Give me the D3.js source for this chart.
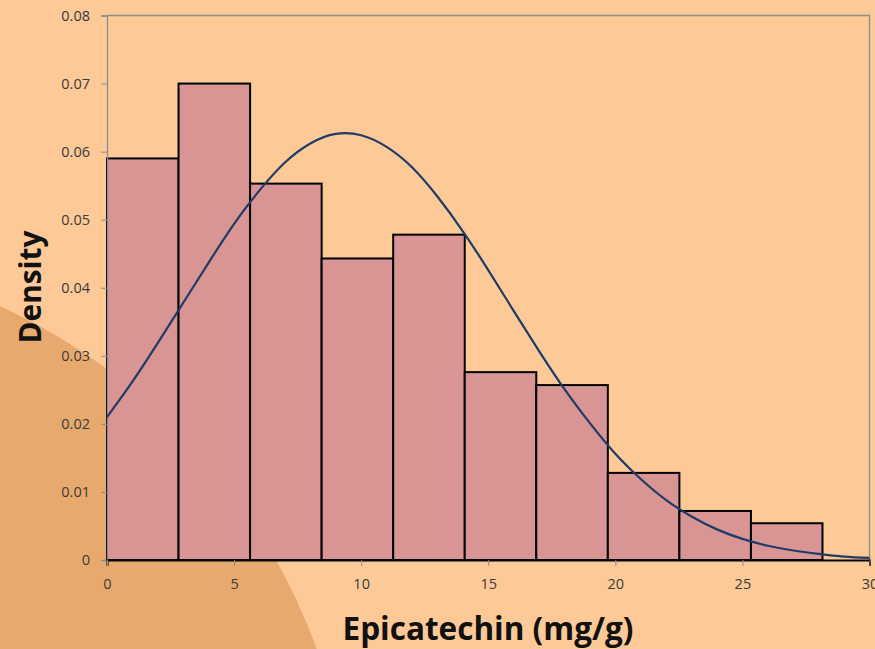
<!DOCTYPE html>
<html>
<head>
<meta charset="utf-8">
<script src="https://cdn.jsdelivr.net/npm/d3@7"></script>
<style>
  html, body { margin: 0; padding: 0; background: #FDC996; }
  svg { display: block; }
</style>
</head>
<body>
<svg id="chart" width="875" height="649"></svg>
<script>
// Histogram bins (lower edge, upper edge) in mg/g and their densities
const binStarts = [0, 2.815, 5.63, 8.445, 11.26, 14.075, 16.89, 19.705, 22.52, 25.335];
const binEnds   = [2.815, 5.63, 8.445, 11.26, 14.075, 16.89, 19.705, 22.52, 25.335, 28.15];
const densities = [0.0590, 0.0700, 0.0553, 0.0443, 0.0478, 0.0276, 0.0257, 0.0128, 0.0072, 0.0054];

// Fitted normal density curve, sampled at whole mg/g values
const curveX = [0,1,2,3,4,5,6,7,8,9,10,11,12,13,14,15,16,17,18,19,20,21,22,23,24,25,26,27,28,29,30];
const curveY = [0.0210,0.0262,0.0319,0.0378,0.0437,0.0494,0.0543,0.0584,0.0612,0.0626,0.0624,0.0607,0.0577,0.0534,0.0483,0.0426,0.0366,0.0307,0.0251,0.0201,0.0156,0.0119,0.0088,0.0064,0.0045,0.0031,0.0021,0.0014,0.0009,0.0005,0.0003];

// Axis ticks
const xTicks = [0, 5, 10, 15, 20, 25, 30];
const yTicks = [0, 0.01, 0.02, 0.03, 0.04, 0.05, 0.06, 0.07, 0.08];

const svg = d3.select("#chart");
const W = 875, H = 649;
const plotL = 107, plotR = 869.5, plotT = 15.5, plotB = 560;

const x = d3.scaleLinear().domain([0, 30]).range([plotL, plotR]);
const y = d3.scaleLinear().domain([0, 0.08]).range([plotB, plotT]);

// Slide backdrop: peach field with a darker arc in the lower-left corner
svg.append("rect").attr("width", W).attr("height", H).attr("fill", "#FDC996");
svg.append("circle").attr("cx", -250).attr("cy", 855).attr("r", 603).attr("fill", "#E8A96E");

// Plot frame (top and right edges)
svg.append("path")
  .attr("d", `M${plotL},${plotT}H${plotR}V${plotB}`)
  .attr("fill", "none").attr("stroke", "#8E8E8E").attr("stroke-width", 1.3);

// Bars
const bins = densities.map((d, i) => ({ x0: binStarts[i], x1: binEnds[i], d }));
svg.append("g").selectAll("rect").data(bins).join("rect")
  .attr("x", b => x(b.x0))
  .attr("y", b => y(b.d))
  .attr("width", b => x(b.x1) - x(b.x0))
  .attr("height", b => y(0) - y(b.d))
  .attr("fill", "#D99594")
  .attr("stroke", "#000").attr("stroke-width", 2);

// Y axis
const yAxis = svg.append("g").attr("transform", `translate(${plotL},0)`)
  .call(d3.axisLeft(y).tickValues(yTicks).tickFormat(d => d === 0 ? "0" : d3.format(".2f")(d)).tickSize(6).tickPadding(11));
yAxis.select(".domain").attr("stroke", "#8E8E8E").attr("stroke-width", 1.3);
yAxis.selectAll(".tick line").attr("stroke", "#8E8E8E");
yAxis.selectAll("text").attr("fill", "#3A3A3A").attr("font-family", "'Open Sans', sans-serif").attr("font-size", 14.5);

// X axis
const xAxis = svg.append("g").attr("transform", `translate(0,${plotB})`)
  .call(d3.axisBottom(x).tickValues(xTicks).tickSize(6).tickPadding(13));
xAxis.select(".domain").attr("stroke", "#000").attr("stroke-width", 2);
xAxis.selectAll(".tick line").attr("stroke", "#8E8E8E");
xAxis.selectAll("text").attr("fill", "#3A3A3A").attr("font-family", "'Open Sans', sans-serif").attr("font-size", 14.5);

// Normal density curve
const line = d3.line().x((d, i) => x(curveX[i])).y(d => y(d)).curve(d3.curveNatural);
svg.append("path").datum(curveY)
  .attr("d", line)
  .attr("fill", "none").attr("stroke", "#1F3B68").attr("stroke-width", 2.2);

// Axis titles, sized to span their widths
function fitText(sel, target) {
  const w = sel.node().getComputedTextLength();
  const fs = parseFloat(sel.attr("font-size"));
  sel.attr("font-size", fs * target / w);
}
const xt = svg.append("text")
  .attr("x", 488).attr("y", 640).attr("text-anchor", "middle")
  .attr("font-family", "'Open Sans', sans-serif").attr("font-weight", "bold")
  .attr("font-size", 28).attr("fill", "#111").text("Epicatechin (mg/g)");
fitText(xt, 291);

const yt = svg.append("text")
  .attr("transform", "translate(41,287) rotate(-90)").attr("text-anchor", "middle")
  .attr("font-family", "'Open Sans', sans-serif").attr("font-weight", "bold")
  .attr("font-size", 26).attr("fill", "#111").text("Density");
fitText(yt, 113);
</script>
</body>
</html>
